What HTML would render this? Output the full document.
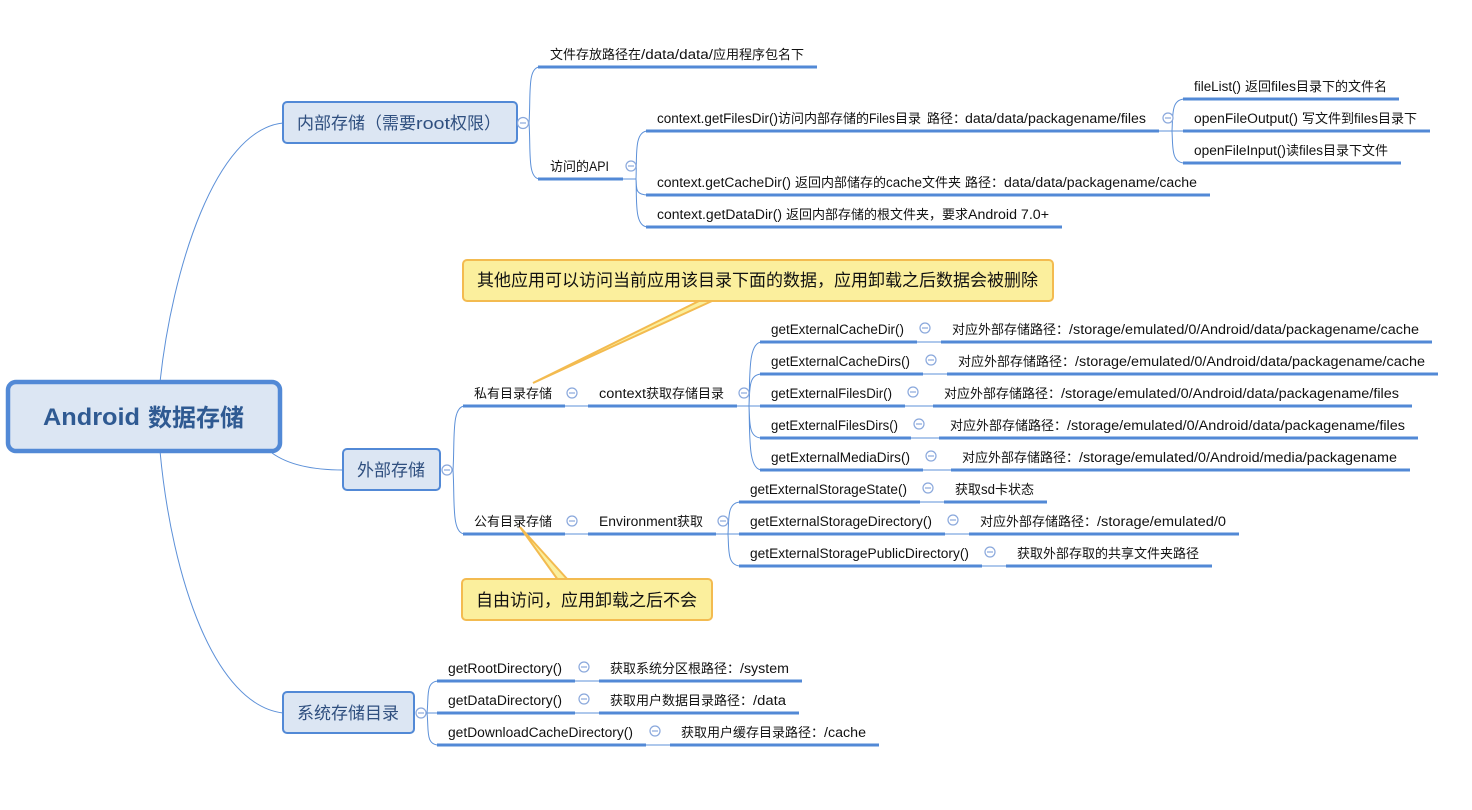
<!DOCTYPE html>
<html><head><meta charset="utf-8"><style>
html,body{margin:0;padding:0;background:#fff;width:1472px;height:810px;overflow:hidden}
svg{display:block}
text{font-family:"Liberation Sans","Noto Sans CJK SC",sans-serif;font-size:13px;fill:#111}
text.a{font-size:13.5px}
.u{stroke:#5289d6;stroke-width:3;fill:none}
.l{stroke:#5c90d8;stroke-width:1;fill:none}
.c{stroke:#8aa8dc;stroke-width:1.2;fill:#fff}
.m{stroke:#8aa8dc;stroke-width:1.2}
.n{fill:#dce6f3;stroke:#5289d6;stroke-width:2}
text.t{font-size:17px;fill:#2f4f7f}
.y{fill:#fbef9d;stroke:#f3bb50;stroke-width:2}
text.s{font-size:17px;fill:#111}
</style></head><body>
<svg width="1472" height="810" viewBox="0 0 1472 810">
<!-- main curves -->
<path class="l" d="M160 382C172 270 215 130 283 123"/>
<path class="l" d="M160 451C172 580 215 705 283 713"/>
<path class="l" d="M272 453C290 466 315 470 343 470"/>
<!-- level 1 branches -->
<path class="l" d="M529 123C531 95 527 67 540 67M529 123C531 150 527 179 540 179"/>
<path class="l" d="M623 179H636M636 179C637 155 634 131 648 131M636 179C637 187 634 195 648 195M636 179C637 200 634 227 648 227"/>
<path class="l" d="M1159 131H1183M1172 131C1173 115 1171 99 1185 99M1172 131C1173 147 1171 163 1185 163"/>
<path class="l" d="M453 470C455 440 451 406 465 406M453 470C455 500 451 534 465 534"/>
<path class="l" d="M565 406H588M565 534H588"/>
<path class="l" d="M737 406H760M749 406C750 375 748 342 762 342M749 406C750 390 748 374 762 374M749 406C750 422 748 438 762 438M749 406C750 437 748 470 762 470"/>
<path class="l" d="M716 534H739M728 534C729 518 727 502 741 502M728 534C729 550 727 566 741 566"/>
<path class="l" d="M427 713C429 697 425 681 439 681M427 713H437M427 713C429 729 425 745 439 745"/>
<path class="l" d="M917 342H941M923 374H947M905 406H933M911 438H939M923 470H951M920 502H944M945 534H969M982 566H1006M575 681H599M575 713H599M646 745H670"/>
<!-- underlines -->
<path class="u" d="M538 67H817M538 179H623M646 131H1159M1183 99H1399M1183 131H1430M1183 163H1401M646 195H1210M646 227H1062"/>
<path class="u" d="M463 406H565M588 406H737M760 342H917M941 342H1432M760 374H923M947 374H1438M760 406H905M933 406H1412M760 438H911M939 438H1418M760 470H923M951 470H1410"/>
<path class="u" d="M463 534H565M588 534H716M739 502H920M944 502H1047M739 534H945M969 534H1239M739 566H982M1006 566H1212"/>
<path class="u" d="M437 681H575M599 681H802M437 713H575M599 713H799M437 745H646M670 745H879"/>
<!-- callout pointers -->
<polygon class="y" points="533,383 699,301 712,301"/>
<polygon class="y" points="520,527 558,580 568,580"/>
<!-- nodes -->
<rect x="8" y="382" width="272" height="69" rx="8" fill="#dce6f3" stroke="#5289d6" stroke-width="4.5"/>
<rect class="n" x="283" y="102" width="234" height="41" rx="4"/>
<rect class="n" x="343" y="449" width="97" height="41" rx="4"/>
<rect class="n" x="283" y="692" width="131" height="41" rx="4"/>
<rect class="y" x="463" y="260" width="590" height="41" rx="4"/>
<rect class="y" x="462" y="579" width="250" height="41" rx="4"/>
<!-- collapse -->
<g>
<circle class="c" cx="523" cy="123" r="5.5"/><path class="m" d="M520 123H526"/>
<circle class="c" cx="631" cy="166" r="5"/><path class="m" d="M628 166H634"/>
<circle class="c" cx="1168" cy="118" r="5"/><path class="m" d="M1165 118H1171"/>
<circle class="c" cx="447" cy="470" r="5"/><path class="m" d="M444 470H450"/>
<circle class="c" cx="421" cy="713" r="5"/><path class="m" d="M418 713H424"/>
<circle class="c" cx="572" cy="393" r="5"/><path class="m" d="M569 393H575"/>
<circle class="c" cx="744" cy="393" r="5"/><path class="m" d="M741 393H747"/>
<circle class="c" cx="572" cy="521" r="5"/><path class="m" d="M569 521H575"/>
<circle class="c" cx="723" cy="521" r="5"/><path class="m" d="M720 521H726"/>
<circle class="c" cx="925" cy="328" r="5"/><path class="m" d="M922 328H928"/>
<circle class="c" cx="931" cy="360" r="5"/><path class="m" d="M928 360H934"/>
<circle class="c" cx="913" cy="392" r="5"/><path class="m" d="M910 392H916"/>
<circle class="c" cx="919" cy="424" r="5"/><path class="m" d="M916 424H922"/>
<circle class="c" cx="931" cy="456" r="5"/><path class="m" d="M928 456H934"/>
<circle class="c" cx="928" cy="488" r="5"/><path class="m" d="M925 488H931"/>
<circle class="c" cx="953" cy="520" r="5"/><path class="m" d="M950 520H956"/>
<circle class="c" cx="990" cy="552" r="5"/><path class="m" d="M987 552H993"/>
<circle class="c" cx="584" cy="667" r="5"/><path class="m" d="M581 667H587"/>
<circle class="c" cx="584" cy="699" r="5"/><path class="m" d="M581 699H587"/>
<circle class="c" cx="655" cy="731" r="5"/><path class="m" d="M652 731H658"/>
</g>
<!-- root and main nodes -->
<g style="font-weight:bold">
<text x="43" y="425" textLength="97" lengthAdjust="spacingAndGlyphs" style="font-size:24px;font-weight:bold;fill:#2f5a92">Android</text>
<text x="148" y="426" style="font-size:24px;font-weight:bold;fill:#2f5a92">数据存储</text>
</g>
<text class="t" x="297" y="129">内部存储（需要</text>
<text class="t" x="416" y="129" textLength="34" lengthAdjust="spacingAndGlyphs">root</text>
<text class="t" x="450" y="129">权限）</text>
<text class="t" x="357" y="476">外部存储</text>
<text class="t" x="297" y="719">系统存储目录</text>
<text class="s" x="477" y="286">其他应用可以访问当前应用该目录下面的数据，应用卸载之后数据会被删除</text>
<text class="s" x="476" y="606">自由访问，应用卸载之后不会</text>

<!-- internal -->
<text x="550" y="59">文件存放路径在</text><text class="a" x="641" y="59" textLength="72" lengthAdjust="spacingAndGlyphs">/data/data/</text><text x="713" y="59">应用程序包名下</text>
<text x="550" y="171">访问的</text><text class="a" x="589" y="171" textLength="20" lengthAdjust="spacingAndGlyphs">API</text>

<text class="a" x="657" y="123" textLength="121" lengthAdjust="spacingAndGlyphs">context.getFilesDir()</text><text x="778" y="123">访问内部存储的</text><text class="a" x="869" y="123" textLength="26" lengthAdjust="spacingAndGlyphs">Files</text><text x="895" y="123">目录</text><text x="927" y="123">路径：</text><text class="a" x="965" y="123" textLength="181" lengthAdjust="spacingAndGlyphs">data/data/packagename/files</text>

<text class="a" x="1194" y="91" textLength="47" lengthAdjust="spacingAndGlyphs">fileList()</text><text x="1245" y="91">返回</text><text class="a" x="1271" y="91" textLength="25" lengthAdjust="spacingAndGlyphs">files</text><text x="1296" y="91">目录下的文件名</text>
<text class="a" x="1194" y="123" textLength="104" lengthAdjust="spacingAndGlyphs">openFileOutput()</text><text x="1302" y="123">写文件到</text><text class="a" x="1354" y="123" textLength="24" lengthAdjust="spacingAndGlyphs">files</text><text x="1378" y="123">目录下</text>
<text class="a" x="1194" y="155" textLength="92" lengthAdjust="spacingAndGlyphs">openFileInput()</text><text x="1286" y="155">读</text><text class="a" x="1299" y="155" textLength="24" lengthAdjust="spacingAndGlyphs">files</text><text x="1323" y="155">目录下文件</text>

<text class="a" x="657" y="187" textLength="134" lengthAdjust="spacingAndGlyphs">context.getCacheDir()</text><text x="795" y="187">返回内部储存的</text><text class="a" x="886" y="187" textLength="36" lengthAdjust="spacingAndGlyphs">cache</text><text x="922" y="187">文件夹</text><text x="965" y="187">路径：</text><text class="a" x="1004" y="187" textLength="193" lengthAdjust="spacingAndGlyphs">data/data/packagename/cache</text>

<text class="a" x="657" y="219" textLength="125" lengthAdjust="spacingAndGlyphs">context.getDataDir()</text><text x="786" y="219">返回内部存储的根文件夹，要求</text><text class="a" x="968" y="219" textLength="81" lengthAdjust="spacingAndGlyphs">Android 7.0+</text>

<!-- external -->
<text x="474" y="398">私有目录存储</text>
<text class="a" x="599" y="398" textLength="47" lengthAdjust="spacingAndGlyphs">context</text><text x="646" y="398">获取存储目录</text>

<text class="a" x="771" y="334" textLength="133" lengthAdjust="spacingAndGlyphs">getExternalCacheDir()</text>
<text x="952" y="334">对应外部存储路径：</text><text class="a" x="1069" y="334" textLength="350" lengthAdjust="spacingAndGlyphs">/storage/emulated/0/Android/data/packagename/cache</text>
<text class="a" x="771" y="366" textLength="139" lengthAdjust="spacingAndGlyphs">getExternalCacheDirs()</text>
<text x="958" y="366">对应外部存储路径：</text><text class="a" x="1075" y="366" textLength="350" lengthAdjust="spacingAndGlyphs">/storage/emulated/0/Android/data/packagename/cache</text>
<text class="a" x="771" y="398" textLength="121" lengthAdjust="spacingAndGlyphs">getExternalFilesDir()</text>
<text x="944" y="398">对应外部存储路径：</text><text class="a" x="1061" y="398" textLength="338" lengthAdjust="spacingAndGlyphs">/storage/emulated/0/Android/data/packagename/files</text>
<text class="a" x="771" y="430" textLength="127" lengthAdjust="spacingAndGlyphs">getExternalFilesDirs()</text>
<text x="950" y="430">对应外部存储路径：</text><text class="a" x="1067" y="430" textLength="338" lengthAdjust="spacingAndGlyphs">/storage/emulated/0/Android/data/packagename/files</text>
<text class="a" x="771" y="462" textLength="139" lengthAdjust="spacingAndGlyphs">getExternalMediaDirs()</text>
<text x="962" y="462">对应外部存储路径：</text><text class="a" x="1079" y="462" textLength="318" lengthAdjust="spacingAndGlyphs">/storage/emulated/0/Android/media/packagename</text>

<text x="474" y="526">公有目录存储</text>
<text class="a" x="599" y="526" textLength="78" lengthAdjust="spacingAndGlyphs">Environment</text><text x="677" y="526">获取</text>
<text class="a" x="750" y="494" textLength="157" lengthAdjust="spacingAndGlyphs">getExternalStorageState()</text>
<text x="955" y="494">获取</text><text class="a" x="981" y="494" textLength="14" lengthAdjust="spacingAndGlyphs">sd</text><text x="995" y="494">卡状态</text>
<text class="a" x="750" y="526" textLength="182" lengthAdjust="spacingAndGlyphs">getExternalStorageDirectory()</text>
<text x="980" y="526">对应外部存储路径：</text><text class="a" x="1097" y="526" textLength="129" lengthAdjust="spacingAndGlyphs">/storage/emulated/0</text>
<text class="a" x="750" y="558" textLength="219" lengthAdjust="spacingAndGlyphs">getExternalStoragePublicDirectory()</text>
<text x="1017" y="558">获取外部存取的共享文件夹路径</text>

<!-- system -->
<text class="a" x="448" y="673" textLength="114" lengthAdjust="spacingAndGlyphs">getRootDirectory()</text>
<text x="610" y="673">获取系统分区根路径：</text><text class="a" x="740" y="673" textLength="49" lengthAdjust="spacingAndGlyphs">/system</text>
<text class="a" x="448" y="705" textLength="114" lengthAdjust="spacingAndGlyphs">getDataDirectory()</text>
<text x="610" y="705">获取用户数据目录路径：</text><text class="a" x="753" y="705" textLength="33" lengthAdjust="spacingAndGlyphs">/data</text>
<text class="a" x="448" y="737" textLength="185" lengthAdjust="spacingAndGlyphs">getDownloadCacheDirectory()</text>
<text x="681" y="737">获取用户缓存目录路径：</text><text class="a" x="824" y="737" textLength="42" lengthAdjust="spacingAndGlyphs">/cache</text>
</svg>
</body></html>
